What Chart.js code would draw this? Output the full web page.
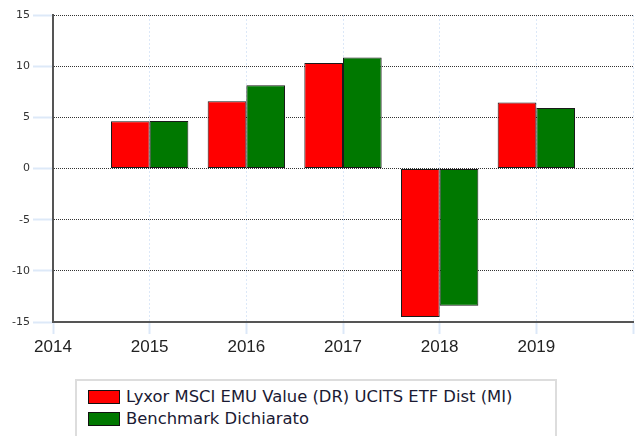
<!DOCTYPE html>
<html>
<head>
<meta charset="utf-8">
<script src="https://cdn.jsdelivr.net/npm/chart.js@4"></script>
<style>
    body { margin: 0; background: #fff; }
    #wrap { position: relative; width: 636px; height: 436px; overflow: hidden; }
    #legend {
        position: absolute; left: 75px; top: 379px; width: 478px; height: 70px;
        border: 2px solid #dddddd; font-family: "DejaVu Sans", sans-serif; font-size: 16.4px; color: #1a1a33;
    }
    .item { position: absolute; left: 11px; height: 18px; line-height: 18px; white-space: nowrap; }
    .swatch { display: inline-block; width: 30px; height: 12px; border: 1px solid #111; vertical-align: middle; margin-right: 6px; position: relative; top: -1px; }
</style>
</head>
<body>
<div id="wrap">
    <canvas id="chart" width="636" height="365"></canvas>
    <div id="legend"></div>
</div>
<script>
// Chart data
const years = ['2014', '2015', '2016', '2017', '2018', '2019', '2020'];
const fundName = 'Lyxor MSCI EMU Value (DR) UCITS ETF Dist (MI)';
const benchName = 'Benchmark Dichiarato';
const fundValues = [null, 4.62, 6.57, 10.3, -14.5, 6.44, null];
const benchValues = [null, 4.64, 8.13, 10.84, -13.4, 5.92, null];
const yTicks = [-15, -10, -5, 0, 5, 10, 15];

const datasets = [
    { label: fundName, data: fundValues, backgroundColor: '#ff0000' },
    { label: benchName, data: benchValues, backgroundColor: '#007800' }
];

new Chart(document.getElementById('chart'), {
    type: 'bar',
    data: {
        labels: years,
        datasets: datasets.map(function (d) {
            return Object.assign({
                borderColor: '#1a1a1a',
                borderWidth: 1,
                borderSkipped: false,
                barPercentage: 1,
                categoryPercentage: 0.8
            }, d);
        })
    },
    options: {
        responsive: false,
        animation: false,
        layout: { padding: { top: 15, right: 2, left: 0, bottom: 0 } },
        plugins: {
            legend: { display: false },
            tooltip: { enabled: false }
        },
        scales: {
            x: {
                offset: false,
                afterFit: function (scale) { scale.height = 43; },
                grid: {
                    offset: false,
                    color: '#dce8f8',
                    lineWidth: 1,
                    tickColor: '#dce8f8',
                    tickLength: 12,
                    tickWidth: 2
                },
                border: { color: '#555555', width: 2, dash: [2, 2] },
                ticks: {
                    autoSkip: false,
                    maxRotation: 0,
                    padding: 3,
                    color: '#222222',
                    font: { family: 'Liberation Sans', size: 17 },
                    callback: function (value, index) {
                        return index < years.length - 1 ? years[index] : '';
                    }
                }
            },
            y: {
                min: -15,
                max: 15,
                afterFit: function (scale) { scale.width = 53; },
                afterBuildTicks: function (scale) {
                    scale.ticks = yTicks.map(function (v) { return { value: v }; });
                },
                grid: {
                    color: '#333333',
                    lineWidth: 1,
                    tickColor: '#dde9f8',
                    tickLength: 20,
                    tickWidth: 2,
                    tickBorderDash: []
                },
                border: { color: '#555555', width: 2, dash: [1, 1] },
                ticks: {
                    padding: 3,
                    color: '#333333',
                    font: { family: 'DejaVu Sans', size: 11 }
                }
            }
        }
    }
});

// Legend
const legend = document.getElementById('legend');
datasets.forEach(function (d, i) {
    const item = document.createElement('div');
    item.className = 'item';
    item.style.top = (7 + i * 22) + 'px';
    const sw = document.createElement('span');
    sw.className = 'swatch';
    sw.style.background = d.backgroundColor;
    item.appendChild(sw);
    item.appendChild(document.createTextNode(d.label));
    legend.appendChild(item);
});
</script>
</body>
</html>
